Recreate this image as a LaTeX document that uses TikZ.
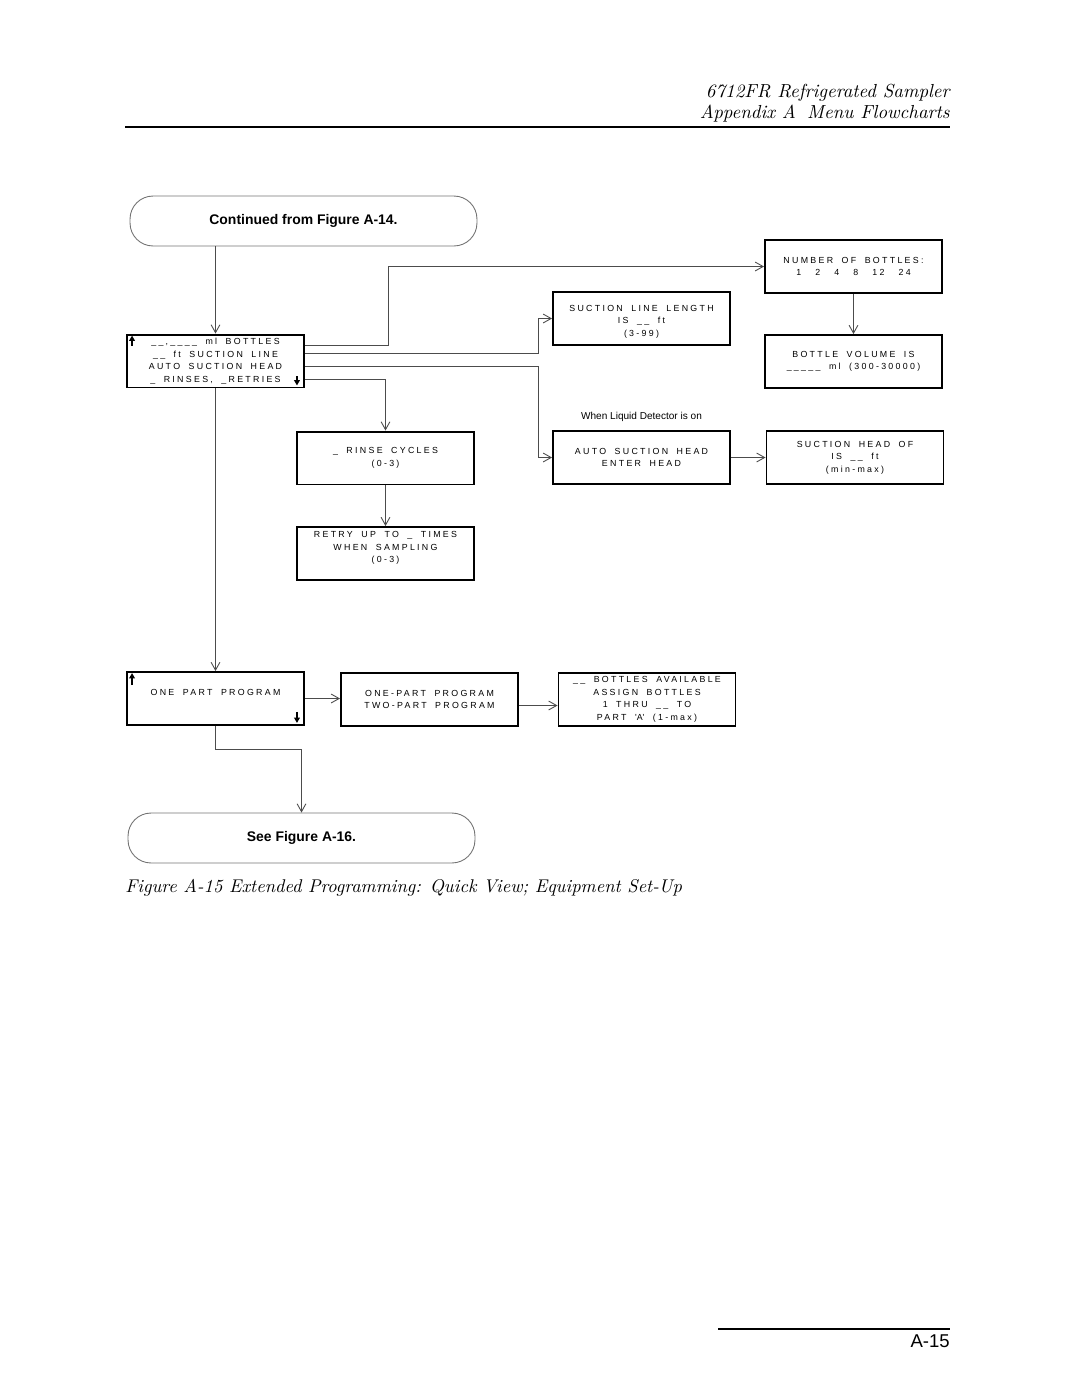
\documentclass[tikz,border=0pt]{standalone}
\usepackage{fontspec}
\usepackage{tikz}
\usetikzlibrary{positioning,calc,arrows.meta}
\newfontfamily\lcdfont[LetterSpace=26,WordSpace=1.8]{Liberation Sans}
\newfontfamily\labelfont{Liberation Sans}

\begin{document}
\begin{tikzpicture}
[x=0.5667pt,y=0.5667pt,%%%%%%%%%%%%%%%%%%%%%%%%%%%%%%
lcdbox/.style={rectangle,draw=black,line width=1.1pt,minimum width=100.3pt,minimum height=30pt,align=center,inner sep=0pt,font=\lcdfont\fontsize{5}{7.1}\selectfont},
termbox/.style={rectangle,rounded corners=13pt,draw=black!55,line width=0.5pt,minimum width=196.6pt,minimum height=28.3pt,font=\labelfont\bfseries\fontsize{7.9}{9}\selectfont},
conn/.style={draw=black!70,line width=0.5pt,-{Straight Barb[length=4.5pt,width=5pt]}},
keyarrow/.style={line width=0.9pt,-{Triangle[length=3pt,width=3.2pt]}},
]%%%%%%%%%%%%%%%%%%%%%%%%%%%%%%
\useasboundingbox (0,0) rectangle (1080,-1397);
% page head
\node[anchor=base east,inner sep=0pt,font=\itshape\fontsize{10.7}{12}\selectfont] (title) at (950,-97) {6712FR Refrigerated Sampler};
\node[anchor=base east,inner sep=0pt,font=\itshape\fontsize{10.7}{12}\selectfont] (chapter) at (950,-118) {Appendix A\hspace{0.6em}Menu Flowcharts};
\draw[line width=1.3pt] (125,-127) -- (950,-127);
% menus
\node[termbox] (start) at (303.5,-221) {Continued from Figure A-14.};
\node[lcdbox] (menu) at (215.5,-361) {\_\_,\_\_\_\_ ml BOTTLES\\\_\_ ft SUCTION LINE\\AUTO SUCTION HEAD\\\_ RINSES, \_RETRIES};
\node[lcdbox] (bottles) at (853.5,-266.5) {NUMBER OF BOTTLES:\\1\hspace{8pt}2\hspace{8pt}4\hspace{8pt}8\hspace{8pt}12\hspace{8pt}24};
\node[lcdbox] (volume) at (853.5,-361.5) {BOTTLE VOLUME IS\\\_\_\_\_\_ ml (300-30000)};
\node[lcdbox] (linelen) at (641.5,-318.5) {\mbox{}\\SUCTION LINE LENGTH\\IS \_\_ ft\\(3-99)};
\node[lcdbox] (rinse) at (385.5,-458) {\_ RINSE CYCLES\\(0-3)};
\node[lcdbox] (retry) at (385.5,-553.5) {RETRY UP TO \_ TIMES\\WHEN SAMPLING\\(0-3)\\\mbox{}};
\node[lcdbox] (autohead) at (641.5,-457.5) {AUTO SUCTION HEAD\\ENTER HEAD};
\node[lcdbox] (headof) at (855,-457.5) {SUCTION HEAD OF\\IS \_\_ ft\\(min-max)};
\node[font=\labelfont\fontsize{5.7}{7}\selectfont,above=1pt of autohead] (detector) {When Liquid Detector is on};
\node[lcdbox] (onepart) at (215.5,-698.5) {ONE PART PROGRAM\\\mbox{}};
\node[lcdbox] (program) at (429.5,-699.5) {ONE-PART PROGRAM\\TWO-PART PROGRAM};
\node[lcdbox] (available) at (647,-699.5) {\_\_ BOTTLES AVAILABLE\\ASSIGN BOTTLES\\1 THRU \_\_ TO\\PART \textquotesingle A\textquotesingle\ (1-max)};
\node[termbox] (seefig) at (301.5,-838) {See Figure A-16.};
% scroll keys
\foreach \b/\t in {menu/12,onepart/14}{
\draw[keyarrow] ($(\b.north west)+(6,-\t)$) -- ($(\b.north west)+(6,-2)$);
\draw[keyarrow] ($(\b.south east)+(-8,\t)$) -- ($(\b.south east)+(-8,3)$);
}
% connectors
\draw[conn] (start.south -| menu.north) -- (menu.north);
\draw[conn] ($(menu.east)+(0,16)$) -- ++(83,0) |- (bottles.west);
\draw[conn] ($(menu.east)+(0,8)$) -- ++(233,0) |- (linelen.west);
\draw[conn] ($(menu.east)+(0,-5)$) -- ++(233,0) |- (autohead.west);
\draw[conn] ($(menu.east)+(0,-18)$) -| (rinse.north);
\draw[conn] (menu.south) -- (onepart.north);
\draw[conn] (rinse) -- (retry);
\draw[conn] (bottles) -- (volume);
\draw[conn] (autohead.east) -- (headof.west);
\draw[conn] (onepart.east) -- (onepart.east -| program.west);
\draw[conn] ($(program.east)+(0,-6)$) -- ($(available.west)+(0,-6)$);
\draw[conn] (onepart.south) -- ++(0,-23) -| (seefig.north);
% caption and foot
\node[anchor=base west,inner sep=0pt,font=\itshape\fontsize{10.45}{13}\selectfont] (caption) at (125,-892) {Figure A-15 Extended Programming: Quick View; Equipment Set-Up};
\draw[line width=0.8pt] (718,-1329) -- (950,-1329);
\node[anchor=base east,inner sep=0pt,font=\labelfont\fontsize{10.5}{12}\selectfont] (pageno) at (950,-1347) {A-15};
\end{tikzpicture}
\end{document}
